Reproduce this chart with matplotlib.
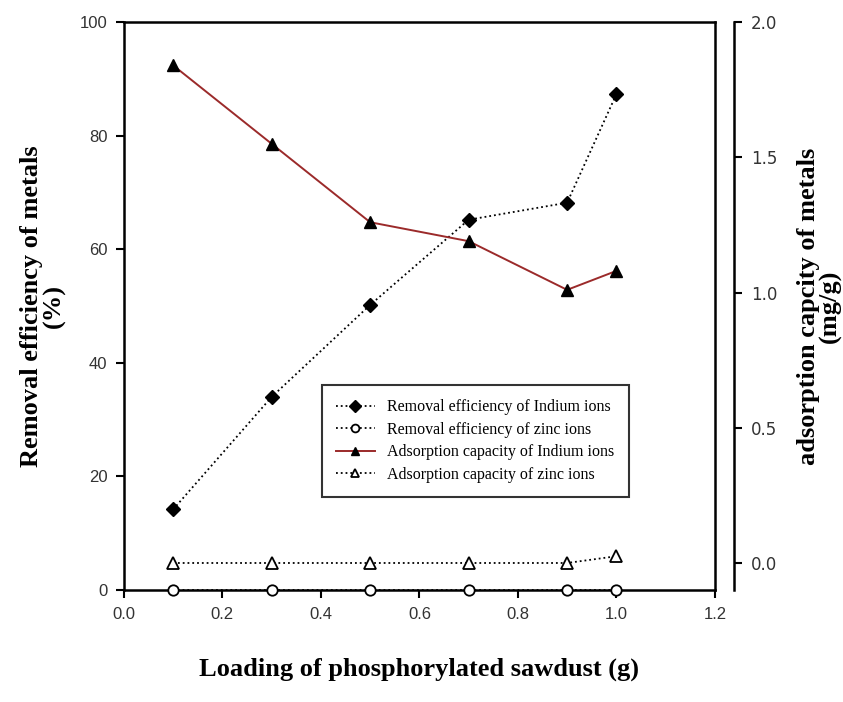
import matplotlib
matplotlib.use("Agg")
import matplotlib.pyplot as plt

loading = [0.1, 0.3, 0.5, 0.7, 0.9, 1.0]
removal_in = [14.2, 34.0, 50.2, 65.2, 68.2, 87.3]
removal_zn = [0.0, 0.0, 0.0, 0.0, 0.0, 0.0]
adsorb_in = [1.84, 1.55, 1.26, 1.19, 1.01, 1.08]
adsorb_zn = [0.0, 0.0, 0.0, 0.0, 0.0, 0.025]

serif = ["Liberation Serif", "DejaVu Serif"]
tick_font = ["Liberation Sans Narrow", "Liberation Sans", "DejaVu Sans"]

fig = plt.figure(figsize=(8.43, 7.02), dpi=100)
ax = fig.add_axes([0.147, 0.1595, 0.701, 0.809])
ax2 = ax.twinx()

l1, = ax.plot(loading, removal_in, ls=":", color="black", lw=1.3,
              marker="D", ms=7.5, mfc="black", mec="black", zorder=3,
              clip_on=False)
l2, = ax.plot(loading, removal_zn, ls=":", color="black", lw=1.3,
              marker="o", ms=7.5, mfc="white", mec="black", mew=1.3, zorder=3,
              clip_on=False)
l3, = ax2.plot(loading, adsorb_in, ls="-", color="#9b2a2a", lw=1.4,
               marker="^", ms=8, mfc="black", mec="black", zorder=3,
               clip_on=False)
l4, = ax2.plot(loading, adsorb_zn, ls=":", color="black", lw=1.3,
               marker="^", ms=8, mfc="white", mec="black", mew=1.3, zorder=3,
               clip_on=False)

ax.set_xlim(0.0, 1.2)
ax.set_ylim(0, 100)
ax2.set_ylim(-0.1, 2.0)
ax.set_xticks([0.0, 0.2, 0.4, 0.6, 0.8, 1.0, 1.2])
ax.set_yticks([0, 20, 40, 60, 80, 100])
ax2.set_yticks([0.0, 0.5, 1.0, 1.5, 2.0])
ax.set_xticklabels([f"{v:.1f}" for v in ax.get_xticks()])
ax2.set_yticklabels([f"{v:.1f}" for v in ax2.get_yticks()])

for a in (ax, ax2):
    for s in a.spines.values():
        s.set_linewidth(1.8)
    a.tick_params(direction="out", length=6, width=1.5, labelsize=12,
                  colors="black", labelcolor="#333333", pad=6)
    for lab in a.get_xticklabels() + a.get_yticklabels():
        lab.set_family(tick_font)

ax2.spines["right"].set_position(("outward", 14))
ax2.spines["left"].set_visible(False)
ax2.spines["top"].set_visible(False)
ax2.spines["bottom"].set_visible(False)
ax.spines["right"].set_visible(True)

ax.set_xlabel("Loading of phosphorylated sawdust (g)", family=serif,
              fontsize=19, fontweight="bold", labelpad=26)
ax.set_ylabel("Removal efficiency of metals\n(%)", family=serif,
              fontsize=19, fontweight="bold", labelpad=10, linespacing=0.95)
ax2.set_ylabel("adsorption capcity of metals\n(mg/g)", family=serif,
               fontsize=19, fontweight="bold", labelpad=14, linespacing=0.95)

leg = ax.legend([l1, l2, l3, l4],
                ["Removal efficiency of Indium ions",
                 "Removal efficiency of zinc ions",
                 "Adsorption capacity of Indium ions",
                 "Adsorption capacity of zinc ions"],
                loc="lower left", bbox_to_anchor=(0.335, 0.164),
                prop={"family": serif, "size": 11.5}, frameon=True,
                fancybox=False, edgecolor="black", borderpad=0.9,
                handlelength=2.4, markerscale=0.75, labelspacing=0.4,
                borderaxespad=0)
leg.get_frame().set_linewidth(1.5)
leg.set_zorder(5)

fig.savefig("out.png", dpi=100)
